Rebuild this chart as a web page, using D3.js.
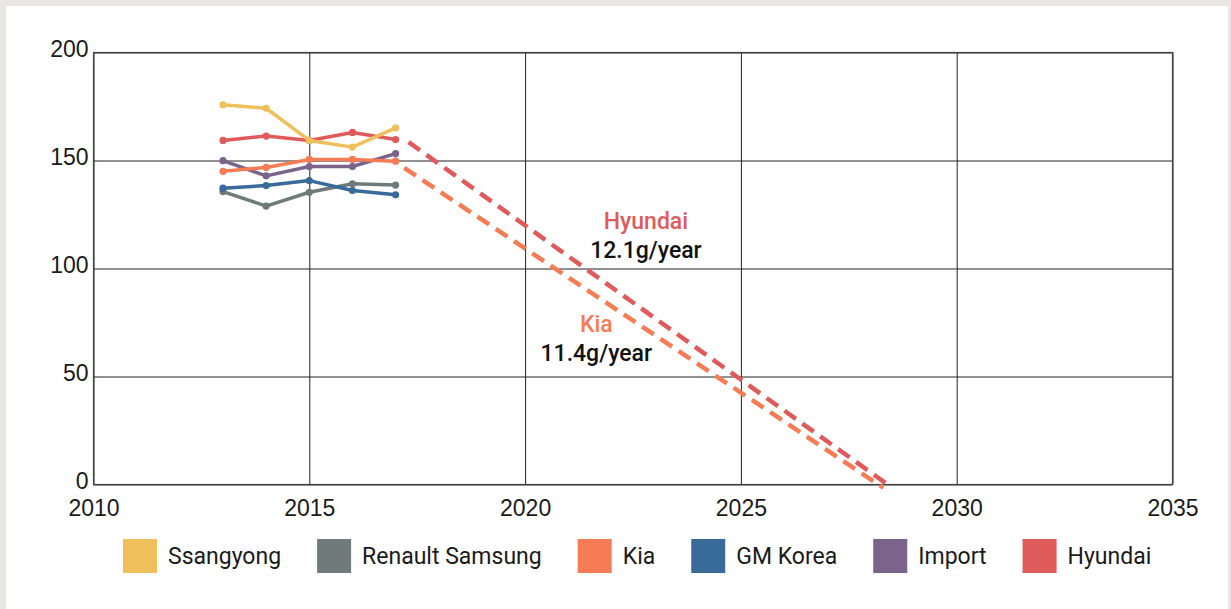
<!DOCTYPE html>
<html>
<head>
<meta charset="utf-8">
<script src="https://cdn.jsdelivr.net/npm/d3@7"></script>
<style>
  body { margin: 0; background: #e8e7e5; }
  svg { display: block; font-family: Roboto, "Noto Sans", sans-serif; }
</style>
</head>
<body>
<div id="chart"></div>
<script>
// data
var years = [2013, 2014, 2015, 2016, 2017];
var seriesNames = ["Ssangyong", "Renault Samsung", "Kia", "GM Korea", "Import", "Hyundai"];
var seriesColors = ["#efbf5b", "#6f7a7a", "#f57c54", "#386b99", "#7a648b", "#df5b5b"];
var ssangyong = [175.8, 174.2, 159.3, 156.2, 165.1];
var renaultSamsung = [135.6, 128.9, 135.3, 139.2, 138.6];
var kia = [145.0, 146.8, 150.5, 150.5, 149.7];
var gmKorea = [137.2, 138.4, 140.7, 136.1, 134.1];
var importCars = [149.9, 142.9, 147.2, 147.2, 153.2];
var hyundai = [159.3, 161.3, 159.3, 163.0, 159.7];
// projected trends [year, value]
var hyundaiTrend = [[2017.3, 158.5], [2028.4, 0]];
var kiaTrend = [[2017.2, 146.6], [2028.3, -1.5]];
var xTicks = [2010, 2015, 2020, 2025, 2030, 2035];
var yTicks = [0, 50, 100, 150, 200];

var allSeries = [ssangyong, renaultSamsung, kia, gmKorea, importCars, hyundai];
var drawOrder = [1, 3, 4, 2, 5, 0];

var W = 1231, H = 609;
var x = d3.scaleLinear().domain([2010, 2035]).range([93.5, 1172.5]);
var y = d3.scaleLinear().domain([0, 200]).range([484.5, 52.5]);

var svg = d3.select("#chart").append("svg")
    .attr("width", W)
    .attr("height", H);

// white panel
svg.append("rect")
    .attr("x", 6).attr("y", 6)
    .attr("width", 1222).attr("height", H)
    .attr("fill", "#fff");

// Y axis + horizontal grid
var yAxis = svg.append("g")
    .attr("transform", "translate(" + x.range()[0] + ",0)")
    .call(d3.axisLeft(y).tickValues(yTicks).tickSize(-(x.range()[1] - x.range()[0])).tickPadding(5));
yAxis.select(".domain").remove();
yAxis.selectAll("line").attr("stroke", "#222").attr("stroke-width", 1);
yAxis.selectAll("text")
    .attr("dy", "4")
    .attr("fill", "#1a1a1a")
    .style("font-size", "23px");

// X axis + vertical grid
var xAxis = svg.append("g")
    .attr("transform", "translate(0," + y.range()[0] + ")")
    .call(d3.axisBottom(x).tickValues(xTicks).tickFormat(d3.format("d")).tickSize(-(y.range()[0] - y.range()[1])));
xAxis.select(".domain").remove();
xAxis.selectAll("line").attr("stroke", "#222").attr("stroke-width", 1);
xAxis.selectAll("text")
    .attr("y", 31).attr("dy", 0)
    .attr("fill", "#1a1a1a")
    .style("font-size", "23px");

// frame
svg.append("rect")
    .attr("x", x.range()[0]).attr("y", y.range()[1])
    .attr("width", x.range()[1] - x.range()[0])
    .attr("height", y.range()[0] - y.range()[1])
    .attr("fill", "none")
    .attr("stroke", "#444")
    .attr("stroke-width", 1.2);

// trend lines
var trendLine = d3.line()
    .x(function(d) { return x(d[0]); })
    .y(function(d) { return y(d[1]); });
[[kiaTrend, seriesColors[2]], [hyundaiTrend, seriesColors[5]]].forEach(function(t) {
  svg.append("path")
      .datum(t[0])
      .attr("d", trendLine)
      .attr("fill", "none")
      .attr("stroke", t[1])
      .attr("stroke-width", 4.5)
      .attr("stroke-dasharray", "14,8");
});

// series lines
var line = d3.line()
    .x(function(d, i) { return x(years[i]); })
    .y(function(d) { return y(d); });
drawOrder.forEach(function(k) {
  var g = svg.append("g");
  g.append("path")
      .datum(allSeries[k])
      .attr("d", line)
      .attr("fill", "none")
      .attr("stroke", seriesColors[k])
      .attr("stroke-width", 3.5)
      .attr("stroke-linejoin", "round");
  g.selectAll("circle")
      .data(allSeries[k])
    .enter().append("circle")
      .attr("cx", function(d, i) { return x(years[i]); })
      .attr("cy", function(d) { return y(d); })
      .attr("r", 3.6)
      .attr("fill", seriesColors[k]);
});

// annotations
var notes = [
  { name: "Hyundai", rate: "12.1g/year", year: 2022.8, value: 118.5, color: seriesColors[5] },
  { name: "Kia", rate: "11.4g/year", year: 2021.65, value: 70.4, color: seriesColors[2] }
];
notes.forEach(function(n) {
  svg.append("text")
      .attr("x", x(n.year)).attr("y", y(n.value))
      .attr("text-anchor", "middle")
      .attr("fill", n.color)
      .style("font-size", "23px")
      .style("font-weight", 500)
      .text(n.name);
  svg.append("text")
      .attr("x", x(n.year)).attr("y", y(n.value) + 29)
      .attr("text-anchor", "middle")
      .attr("fill", "#111")
      .style("font-size", "23px")
      .style("font-weight", 500)
      .text(n.rate);
});

// legend
var lx = 123;
seriesNames.forEach(function(name, i) {
  svg.append("rect")
      .attr("x", lx).attr("y", 539)
      .attr("width", 34).attr("height", 34)
      .attr("fill", seriesColors[i]);
  var t = svg.append("text")
      .attr("x", lx + 45).attr("y", 564)
      .attr("fill", "#1a1a1a")
      .style("font-size", "23px")
      .text(name);
  lx += 45 + t.node().getComputedTextLength() + 36;
});
</script>
</body>
</html>
